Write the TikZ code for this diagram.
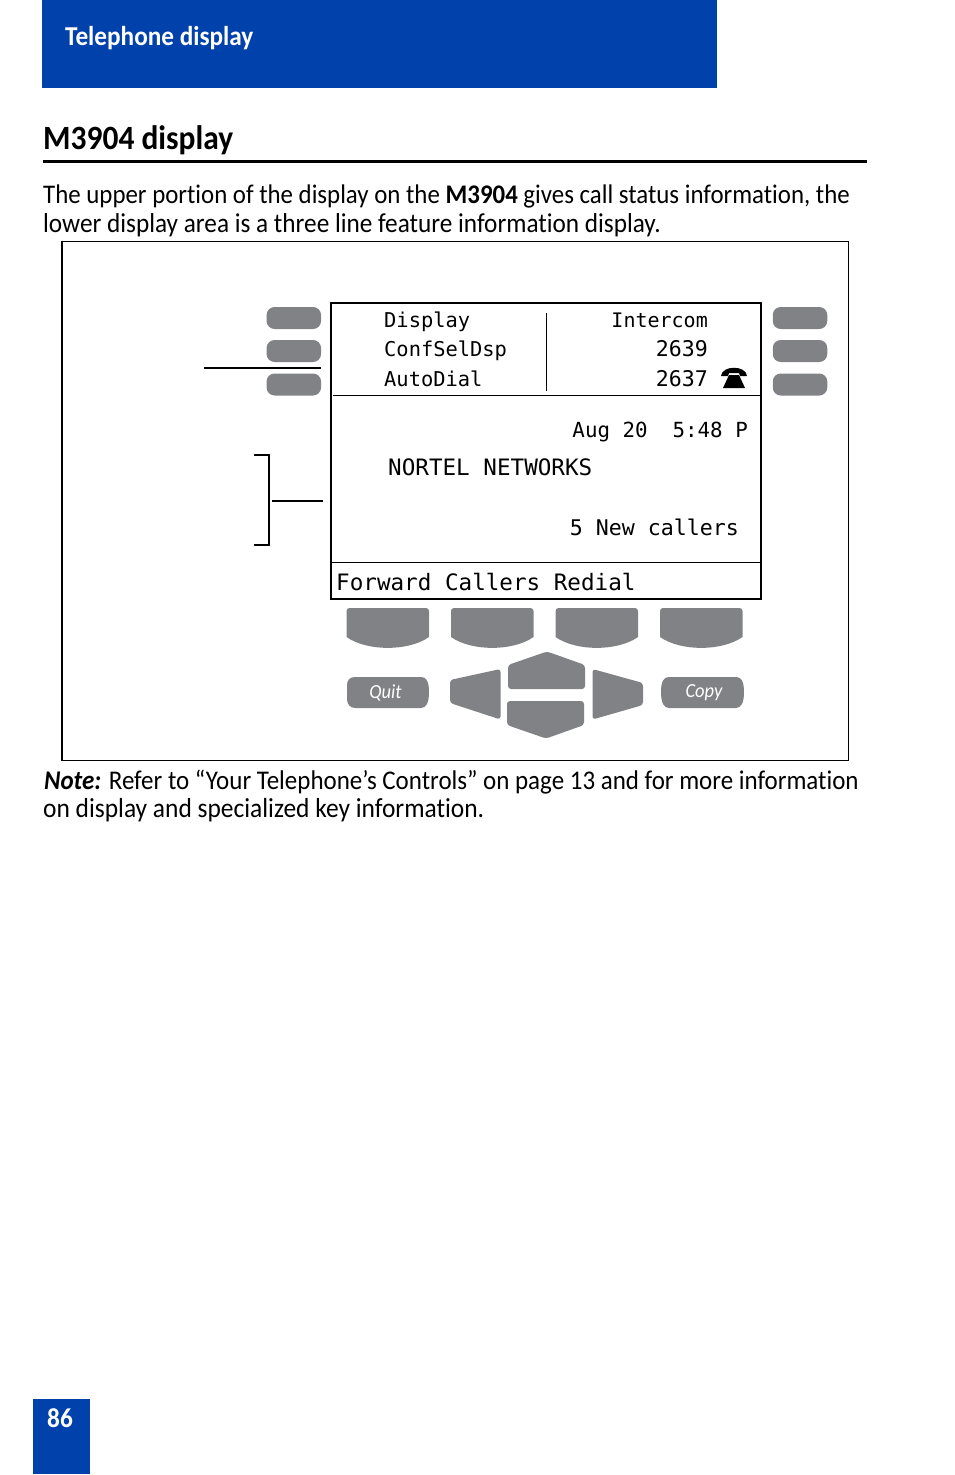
\documentclass[tikz,border=0pt]{standalone}
\usepackage{fontspec}
\setmainfont{Carlito}[FakeStretch=0.925,Ligatures=NoCommon]
\newfontfamily\lcdfont{DejaVu Sans Mono}
\definecolor{headblue}{HTML}{0041AB}
\definecolor{keygrey}{HTML}{808285}
\tikzset{
  pagetext/.style={anchor=base west, inner sep=0pt, font=\fontsize{27}{28}\selectfont},
  headtext/.style={anchor=base west, inner sep=0pt, text=white, font=\fontsize{27.3}{28}\selectfont\bfseries},
  lcdbig/.style={anchor=base west, inner sep=0pt, font=\lcdfont\fontsize{22.6}{24}\selectfont},
  lcdsmall/.style={anchor=base west, inner sep=0pt, font=\lcdfont\fontsize{20.4}{22}\selectfont},
  sidekey/.style={fill=keygrey, rounded corners=8pt, minimum width=54.5pt, minimum height=22pt, inner sep=0pt},
  navkey/.style={fill=keygrey, rounded corners=3pt},
  keyname/.style={text=white, inner sep=0pt, font=\fontsize{20}{20}\selectfont\itshape}
}
\begin{document}
\begin{tikzpicture}[x=1pt,y=-1pt]
  \useasboundingbox (0,0) rectangle (954,1475);
  % page furniture
  \fill[headblue] (42,0) rectangle (717,88);
  \fill[headblue] (33,1399) rectangle (90,1474);
  \node[headtext] (chapter) at (65,45) {Telephone display};
  \node[headtext] (pageno) at (47,1427) {86};
  \node[pagetext, font=\fontsize{34}{36}\selectfont\bfseries] (title) at (43,149) {M3904 display};
  \draw[line width=3pt] (43,161) -- (867,161);
  \node[pagetext, font=\fontsize{26.9}{28}\selectfont] (para1) at (43,203) {The upper portion of the display on the \textbf{M3904} gives call status information, the};
  \node[pagetext, font=\fontsize{27.3}{28}\selectfont] (para2) at (43,232) {lower display area is a three line feature information display.};
  \node[pagetext] (note1) at (44,789) {\textbf{\textit{Note:}} Refer to “Your Telephone’s Controls” on page 13 and for more information};
  \node[pagetext, font=\fontsize{27.5}{28}\selectfont] (note2) at (43,817) {on display and specialized key information.};
  % frame and display
  \draw[line width=1.2pt] (62,241.5) rectangle (848.5,760.5);
  \draw[line width=2pt] (331,303) rectangle (760.5,599);
  \draw[line width=0.8pt] (333,395.5) -- (760,395.5);
  \draw[line width=0.8pt] (331,562.5) -- (760,562.5);
  \draw[line width=0.8pt] (546.5,313) -- (546.5,391);
  % line keys
  \node[sidekey] (kl1) at (293.8,318) {};
  \node[sidekey] (kl2) at (293.8,351) {};
  \node[sidekey] (kl3) at (293.8,384.5) {};
  \node[sidekey] (kr1) at (800,318) {};
  \node[sidekey] (kr2) at (800,351) {};
  \node[sidekey] (kr3) at (800,384.5) {};
  % leaders
  \coordinate (leada) at (204,368);
  \coordinate (leadb) at (321,368);
  \coordinate (brtop) at (254,455);
  \coordinate (brbot) at (254,545);
  \coordinate (leadc) at (272,501);
  \coordinate (leadd) at (323,501);
  \draw[line width=1.3pt] (leada) -- (leadb);
  \draw[line width=1.3pt] (brtop) -- (269,455) -- (269,545) -- (brbot);
  \draw[line width=1.3pt] (leadc) -- (leadd);
  % display text
  \node[lcdsmall] (dl1) at (384,327) {Display};
  \node[lcdsmall] (dl2) at (384,356) {ConfSelDsp};
  \node[lcdsmall] (dl3) at (384,386) {AutoDial};
  \node[lcdsmall, anchor=base east, font=\lcdfont\fontsize{20}{22}\selectfont] (dr1) at (708,327) {Intercom};
  \node[lcdsmall, anchor=base east, font=\lcdfont\fontsize{21.6}{22}\selectfont] (dr2) at (708,356) {2639};
  \node[lcdsmall, anchor=base east, font=\lcdfont\fontsize{21.6}{22}\selectfont] (dr3) at (708,386) {2637};
  \node[lcdbig, anchor=base east, font=\lcdfont\fontsize{20.8}{24}\selectfont] (date) at (748,437) {Aug 20\ \ 5:48 P};
  \node[lcdbig] (brand) at (388,475) {NORTEL NETWORKS};
  \node[lcdbig, anchor=base east, font=\lcdfont\fontsize{21.6}{24}\selectfont] (callers) at (739,535) {5 New callers};
  \node[lcdbig] (softrow) at (336,590) {Forward Callers Redial};
  % telephone glyph
  \fill (721,376) .. controls (722,365) and (746,365) .. (747,376) -- (740,376) -- (739,373) -- (729,373) -- (728,376) -- cycle;
  \fill (729,375) -- (739,375) -- (745,388) -- (723,388) -- cycle;
  % soft keys
  \foreach \kx in {346.5,451,555.5,660} {
    \begin{scope}[shift={(\kx,0)}]
      \fill[keygrey] (0,611) arc (180:90:3 and -3) -- (79.5,608) arc (90:0:3 and -3) -- (82.5,637)
        .. controls (62,651.5) and (20.5,651.5) .. (0,637) -- cycle;
    \end{scope}
  }
  % quit and copy keys
  \fill[keygrey] (347,685) .. controls (347,680) and (350,677) .. (355,677) -- (421,677)
    .. controls (426,677) and (429,681) .. (429,692) .. controls (429,703) and (426,708) .. (421,708)
    -- (355,708) .. controls (350,708) and (347,704) .. (347,699) -- cycle;
  \fill[keygrey] (661,692) .. controls (661,681) and (664,677) .. (669,677) -- (736,677)
    .. controls (741,677) and (744,681) .. (744,692) .. controls (744,703) and (741,708) .. (736,708)
    -- (669,708) .. controls (664,708) and (661,703) .. (661,692) -- cycle;
  \node[keyname] (quit) at (385.5,693) {Quit};
  \node[keyname] (copy) at (704,693) {Copy};
  % navigation keys
  \fill[navkey] (547,651.5) -- (585,665) -- (585,689) -- (508,689) -- (508,665) -- cycle;
  \fill[navkey] (507,701) -- (584,701) -- (584,725) -- (546,738.5) -- (507,725) -- cycle;
  \fill[navkey] (500.5,669) -- (500.5,719.5) -- (450,703) -- (450,680) -- cycle;
  \fill[navkey] (592.5,669) -- (643,683) -- (643,705) -- (592.5,719.5) -- cycle;
\end{tikzpicture}
\end{document}
